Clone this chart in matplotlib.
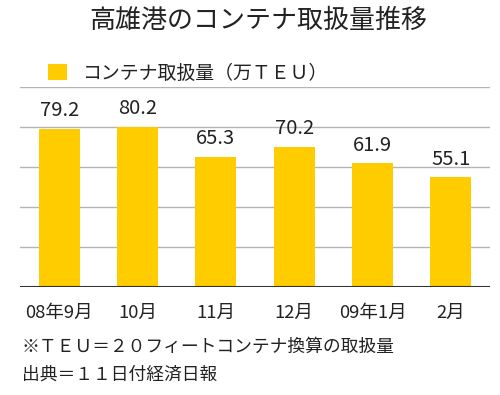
import matplotlib
matplotlib.use("Agg")
import matplotlib.pyplot as plt

plt.rcParams['font.family'] = ['Noto Sans CJK JP', 'DejaVu Sans']

months = ["08年9月", "10月", "11月", "12月", "09年1月", "2月"]
teu = [79.2, 80.2, 65.3, 70.2, 61.9, 55.1]
legend_label = "コンテナ取扱量（万ＴＥＵ）"
title = "高雄港のコンテナ取扱量推移"
notes = ["※ＴＥＵ＝２０フィートコンテナ換算の取扱量", "出典＝１１日付経済日報"]

bar_color = "#FFCC00"
text_color = "#222222"

fig = plt.figure(figsize=(5, 3.95), dpi=100)
ax = fig.add_axes([0.04, 0.2727, 0.94, 0.5063])

x = range(len(months))
bars = ax.bar(x, teu, width=0.52, color=bar_color, label=legend_label, zorder=2)

for xi, v in zip(x, teu):
    ax.annotate(f"{v:.1f}", (xi, v), xytext=(0, 13), textcoords="offset points",
                ha="center", va="center", fontsize=14.5, color=text_color)

ax.set_xlim(-0.5, len(months) - 0.5)
ax.set_ylim(0, 100)
ax.set_yticks([20, 40, 60, 80, 100])
ax.yaxis.grid(True, color="#b4b4b4", linewidth=1.0, zorder=0)
ax.tick_params(axis="y", length=0, labelleft=False)
ax.axhline(0, color="#333333", linewidth=1.5, zorder=3)
for s in ax.spines.values():
    s.set_visible(False)

ax.set_xticks(list(x))
ax.set_xticklabels(months, fontsize=13.3, color=text_color)
ax.tick_params(axis="x", length=0, pad=12)

fig.text(0.516, 1 - 20 / 395, title, ha="center", va="center",
         fontsize=18.7, color=text_color)

fig.legend(handles=[bars], labels=[legend_label], loc="center left",
           bbox_to_anchor=(48 / 500, 1 - 73 / 395), frameon=False,
           fontsize=13.6, handlelength=1.0, handleheight=1.0,
           handletextpad=0.85, borderpad=0, borderaxespad=0,
           labelcolor=text_color)

fig.text(22 / 500, 1 - 347 / 395, notes[0], ha="left", va="center",
         fontsize=12.8, color=text_color)
fig.text(22 / 500, 1 - 375 / 395, notes[1], ha="left", va="center",
         fontsize=12.8, color=text_color)

fig.savefig("out.png", dpi=100)
